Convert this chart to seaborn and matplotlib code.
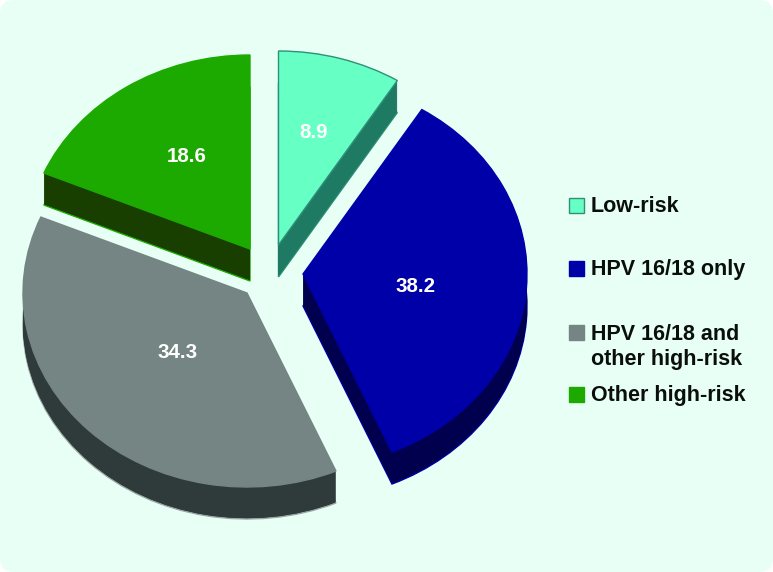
import matplotlib
matplotlib.use("Agg")
import matplotlib.pyplot as plt
from matplotlib.patches import FancyBboxPatch, Rectangle
import seaborn as sns

# Data
categories = ["Low-risk", "HPV 16/18 only", "HPV 16/18 and\nother high-risk", "Other high-risk"]
slice_shares = [8.9, 34.6, 37.9, 18.6]          # angular size as drawn
slice_labels = ["8.9", "38.2", "34.3", "18.6"]  # values as printed

# Styles
top_colors = ["#66FFC4", "#0000A8", "#748583", "#1DAA00"]
side_colors = ["#1F7A64", "#00004F", "#2F3B3A", "#183F00"]
edge_colors = ["#2E9078", "#0000A8", "#9AA8A5", "#1DAA00"]
apex_px = [(278.5, 245), (303, 274), (247, 293), (250, 249)]
label_px = [(314, 132), (416, 286), (178, 352), (187, 157)]
legend_y = [205.5, 268.5, 332, 394.5]
legend_text_y = [206, 270, 347, 395]
W, H = 773, 572
RX, RY, DEPTH = 224, 194, 32
CX, CY = 265, 273

sns.set_theme(style="white")
plt.rcParams["font.family"] = ["Liberation Sans", "DejaVu Sans"]
top_pal = sns.color_palette(top_colors)
side_pal = sns.color_palette(side_colors)

fig = plt.figure(figsize=(W / 100, H / 100), dpi=100, facecolor="white")

# background and overlay axes in pixel coordinates
bg = fig.add_axes([0, 0, 1, 1], zorder=0)
bg.set_xlim(0, W); bg.set_ylim(H, 0); bg.axis("off")
bg.add_patch(FancyBboxPatch((14, 14), W - 28, H - 28, boxstyle="round,pad=14,rounding_size=14",
                            fc="#E8FFF5", ec="none"))

ax = fig.add_axes([0, 0, 1, 1], zorder=1)
ax.patch.set_alpha(0)


def place(wedges, depth):
    for w, (px, py) in zip(wedges, apex_px):
        w.set_center(((px - CX) / RX, (CY - py - depth) / RY))


for d in range(DEPTH, 0, -1):
    props = {"linewidth": 0}
    wedges, _ = ax.pie(slice_shares, colors=side_pal, startangle=90, counterclock=False,
                       wedgeprops=props)
    place(wedges, d)
    if d == DEPTH:
        for w, e in zip(wedges, edge_colors):
            w.set_edgecolor(e)
            w.set_linewidth(1.0)

wedges, _ = ax.pie(slice_shares, colors=top_pal, startangle=90, counterclock=False,
                   wedgeprops={"linewidth": 1.0})
place(wedges, 0)
for w, e in zip(wedges, edge_colors):
    w.set_edgecolor(e if e != "#9AA8A5" else "#748583")

ax.set_aspect("auto")
ax.set_xlim(-CX / RX, (W - CX) / RX)
ax.set_ylim((CY - H) / RY, CY / RY)

over = fig.add_axes([0, 0, 1, 1], zorder=2)
over.patch.set_alpha(0)
over.set_xlim(0, W); over.set_ylim(H, 0); over.axis("off")

for (x, y), t in zip(label_px, slice_labels):
    over.text(x, y, t, color="white", fontsize=14.8, fontweight="bold", ha="center", va="center")

for y, ty, name, col, e in zip(legend_y, legend_text_y, categories, top_pal,
                               ["#2E9078", "#0000A8", "#748583", "#1DAA00"]):
    over.add_patch(Rectangle((569, y - 7.5), 15, 15, fc=col, ec=e, lw=1))
    over.text(591, ty, name, color="#0A0F0D", fontsize=15.5, fontweight="bold",
              ha="left", va="center", linespacing=1.23)

fig.savefig("out.png", dpi=100)
